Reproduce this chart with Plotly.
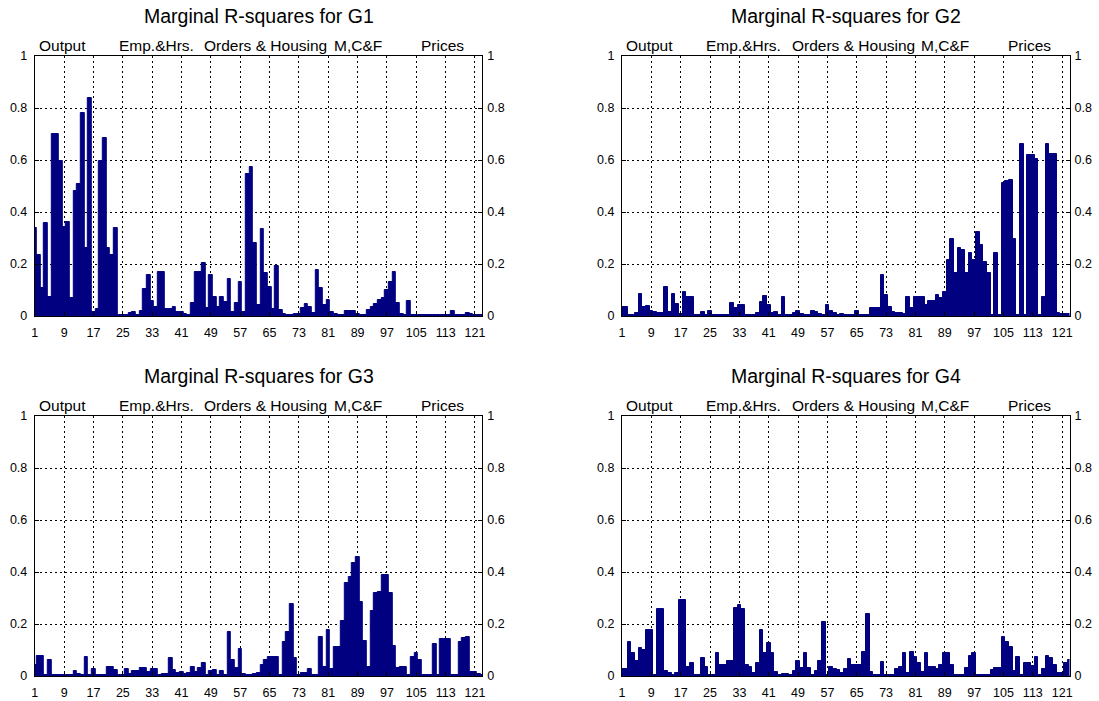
import plotly.graph_objects as go

positions = list(range(1, 124))

g1 = [0.337, 0.235, 0.106, 0.356, 0.074, 0.70, 0.70, 0.597, 0.344, 0.36,
      0.068, 0.48, 0.506, 0.78, 0.26, 0.84, 0.017, 0.026, 0.597, 0.683,
      0.26, 0.235, 0.337, 0.005, 0.004, 0.005, 0.01, 0.017, 0.005, 0.02,
      0.103, 0.158, 0.059, 0.036, 0.17, 0.17, 0.026, 0.026, 0.033, 0.017,
      0.017, 0.008, 0.005, 0.049, 0.17, 0.17, 0.205, 0.03, 0.158, 0.072,
      0.033, 0.072, 0.055, 0.141, 0.017, 0.049, 0.13, 0.017, 0.546, 0.574,
      0.28, 0.042, 0.333, 0.164, 0.113, 0.026, 0.194, 0.023, 0.008, 0.003,
      0.003, 0.008, 0.008, 0.03, 0.045, 0.033, 0.01, 0.177, 0.106, 0.042,
      0.062, 0.017, 0.008, 0.003, 0.003, 0.02, 0.02, 0.02, 0.008, 0.005,
      0.003, 0.023, 0.036, 0.045, 0.06, 0.07, 0.1, 0.132, 0.17, 0.049,
      0.008, 0.005, 0.059, 0.005, 0.003, 0.003, 0.003, 0.003, 0.003, 0.003,
      0.003, 0.003, 0.005, 0.003, 0.02, 0.004, 0.004, 0.004, 0.01, 0.008,
      0.003, 0.003, 0.003]

g2 = [0.036, 0.036, 0.004, 0.004, 0.013, 0.085, 0.036, 0.04, 0.02, 0.015,
      0.013, 0.013, 0.11, 0.017, 0.085, 0.045, 0.008, 0.091, 0.072, 0.072,
      0.003, 0.003, 0.017, 0.003, 0.019, 0.003, 0.003, 0.003, 0.003, 0.003,
      0.049, 0.03, 0.042, 0.042, 0.003, 0.003, 0.003, 0.01, 0.055, 0.078,
      0.042, 0.01, 0.017, 0.003, 0.072, 0.003, 0.003, 0.013, 0.02, 0.008,
      0.003, 0.003, 0.02, 0.017, 0.008, 0.005, 0.042, 0.02, 0.01, 0.004,
      0.009, 0.003, 0.003, 0.003, 0.02, 0.003, 0.003, 0.003, 0.03, 0.03,
      0.03, 0.158, 0.081, 0.036, 0.017, 0.013, 0.013, 0.008, 0.072, 0.03,
      0.072, 0.072, 0.072, 0.042, 0.059, 0.059, 0.081, 0.068, 0.094, 0.215,
      0.295, 0.164, 0.26, 0.254, 0.164, 0.241, 0.215, 0.324, 0.273, 0.209,
      0.164, 0.004, 0.241, 0.004, 0.513, 0.518, 0.523, 0.295, 0.004, 0.662,
      0.004, 0.619, 0.619, 0.603, 0.004, 0.074, 0.662, 0.622, 0.622, 0.01,
      0.008, 0.008, 0.006]

g3 = [0.042, 0.077, 0.077, 0.003, 0.062, 0.003, 0.003, 0.003, 0.003, 0.003,
      0.003, 0.02, 0.008, 0.003, 0.072, 0.003, 0.026, 0.003, 0.003, 0.003,
      0.036, 0.036, 0.023, 0.003, 0.003, 0.026, 0.008, 0.02, 0.02, 0.032,
      0.032, 0.017, 0.026, 0.026, 0.003, 0.008, 0.008, 0.068, 0.023, 0.013,
      0.017, 0.008, 0.01, 0.036, 0.017, 0.03, 0.049, 0.003, 0.02, 0.023,
      0.003, 0.02, 0.003, 0.17, 0.062, 0.03, 0.103, 0.008, 0.003, 0.003,
      0.008, 0.013, 0.042, 0.062, 0.072, 0.072, 0.072, 0.003, 0.13, 0.17,
      0.277, 0.068, 0.003, 0.013, 0.013, 0.026, 0.003, 0.003, 0.151, 0.036,
      0.177, 0.026, 0.11, 0.11, 0.213, 0.359, 0.382, 0.436, 0.459, 0.286,
      0.136, 0.036, 0.251, 0.32, 0.324, 0.388, 0.388, 0.318, 0.115, 0.03,
      0.036, 0.036, 0.003, 0.074, 0.087, 0.062, 0.003, 0.003, 0.003, 0.123,
      0.003, 0.141, 0.141, 0.141, 0.003, 0.003, 0.13, 0.145, 0.15, 0.017,
      0.017, 0.008, 0.005]

g4 = [0.026, 0.026, 0.13, 0.09, 0.059, 0.106, 0.1, 0.177, 0.177, 0.003,
      0.256, 0.256, 0.02, 0.013, 0.003, 0.013, 0.292, 0.292, 0.036, 0.049,
      0.003, 0.003, 0.068, 0.036, 0.003, 0.003, 0.09, 0.042, 0.042, 0.059,
      0.059, 0.26, 0.273, 0.256, 0.042, 0.033, 0.013, 0.049, 0.177, 0.087,
      0.128, 0.087, 0.017, 0.003, 0.006, 0.006, 0.003, 0.02, 0.059, 0.03,
      0.087, 0.03, 0.003, 0.02, 0.059, 0.209, 0.003, 0.036, 0.026, 0.023,
      0.013, 0.026, 0.064, 0.042, 0.042, 0.042, 0.094, 0.238, 0.017, 0.003,
      0.003, 0.055, 0.003, 0.003, 0.003, 0.026, 0.036, 0.087, 0.01, 0.091,
      0.074, 0.049, 0.017, 0.087, 0.036, 0.036, 0.026, 0.042, 0.09, 0.09,
      0.042, 0.003, 0.003, 0.003, 0.03, 0.077, 0.09, 0.003, 0.003, 0.003,
      0.003, 0.023, 0.03, 0.03, 0.149, 0.13, 0.113, 0.02, 0.074, 0.003,
      0.049, 0.049, 0.038, 0.072, 0.005, 0.026, 0.077, 0.068, 0.042, 0.013,
      0.013, 0.049, 0.06]

series = [g1, g2, g3, g4]
titles = ["Marginal R-squares for G1", "Marginal R-squares for G2",
          "Marginal R-squares for G3", "Marginal R-squares for G4"]
sections = ["Output", "Emp.&Hrs.", "Orders & Housing", "M,C&F", "Prices"]
section_x = [8.5, 34.2, 64.0, 89.0, 112.2]
xticks = list(range(1, 122, 8))
yticks = [0, 0.2, 0.4, 0.6, 0.8, 1]
yticktext = ["0", "0.2", "0.4", "0.6", "0.8", "1"]

W, H = 1099, 701
FONT = "Liberation Sans, Arial, Helvetica, sans-serif"
BAR = "#000080"

xdom = [(34.8 / W, 482.3 / W), (622.0 / W, 1069.5 / W)]
ydom = [((H - 316) / H, (H - 56) / H), ((H - 676) / H, (H - 416) / H)]
title_y = [(H - 16) / H, (H - 376) / H]

fig = go.Figure()
layout = dict(
    template="none",
    width=W, height=H,
    margin=dict(l=0, r=0, t=0, b=0, pad=0, autoexpand=False),
    paper_bgcolor="white", plot_bgcolor="white",
    showlegend=False, bargap=0,
    font=dict(family=FONT, color="black", size=12),
)
annotations = []
tickfont = dict(family=FONT, size=12.5, color="black")

for k in range(4):
    n = k + 1
    col = k % 2
    row = k // 2
    xa = "x" if n == 1 else f"x{n}"
    ya = "y" if n == 1 else f"y{n}"
    yr = f"y{n + 4}"
    fig.add_trace(go.Bar(
        x=positions, y=series[k], xaxis=xa, yaxis=ya, width=1,
        marker=dict(color=BAR, line=dict(color=BAR, width=1)),
        hoverinfo="x+y"))
    fig.add_trace(go.Scatter(x=[positions[0]], y=[0], xaxis=xa, yaxis=yr,
                             mode="markers", marker=dict(opacity=0),
                             hoverinfo="skip"))
    common = dict(showgrid=True, gridcolor="black", gridwidth=1,
                  griddash="2px,3px", zeroline=False, showline=True,
                  mirror=True, linecolor="black", linewidth=1,
                  ticks="inside", ticklen=4, tickcolor="black",
                  automargin=False, tickfont=tickfont)
    layout[f"xaxis{'' if n == 1 else n}"] = dict(
        domain=list(xdom[col]), anchor=ya, range=[1, 123],
        tickmode="array", tickvals=xticks, ticklabelstandoff=5, **common)
    layout[f"yaxis{'' if n == 1 else n}"] = dict(
        domain=list(ydom[row]), anchor=xa, range=[0, 1],
        tickmode="array", tickvals=yticks, ticktext=yticktext,
        ticklabelstandoff=4, **common)
    layout[f"yaxis{n + 4}"] = dict(
        overlaying=ya, anchor=xa, side="right", range=[0, 1],
        tickmode="array", tickvals=yticks, ticktext=yticktext,
        showgrid=False, zeroline=False, showline=False, automargin=False,
        ticks="inside", ticklen=4, tickcolor="black", ticklabelstandoff=4,
        tickfont=tickfont)
    annotations.append(dict(
        text=titles[k], xref="paper", yref="paper",
        x=sum(xdom[col]) / 2, y=title_y[row], xanchor="center",
        yanchor="middle", showarrow=False,
        font=dict(family=FONT, size=19.5, color="black")))
    for s, sx in zip(sections, section_x):
        annotations.append(dict(
            text=s, xref=xa, yref=f"{ya} domain", x=sx, y=1,
            xanchor="center", yanchor="bottom", showarrow=False,
            font=dict(family=FONT, size=15.5, color="black")))

layout["annotations"] = annotations
fig.update_layout(**layout)
fig.write_html("out.html", config={"displayModeBar": False},
               post_script="document.body.style.margin='0';"
                           "document.body.style.overflow='hidden';")
